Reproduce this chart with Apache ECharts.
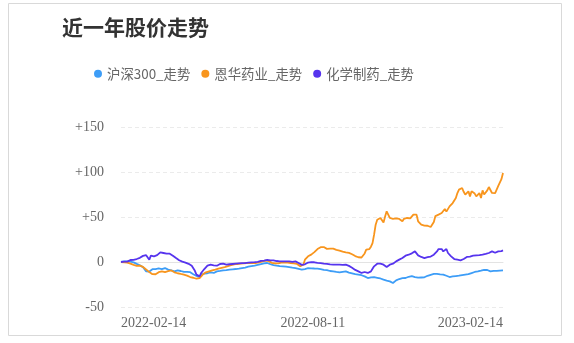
<!DOCTYPE html>
<html>
<head>
<meta charset="utf-8">
<script src="https://cdn.jsdelivr.net/npm/echarts@6/dist/echarts.min.js"></script>
<style>
  html, body { margin: 0; padding: 0; background: #fff; }
  #chart { width: 574px; height: 343px; }
</style>
</head>
<body>
<div id="chart"></div>
<script>
// Trading calendar: weekdays from 2022-02-14 to 2023-02-14, minus exchange holidays
const startDate = '2022-02-14';
const endDate = '2023-02-14';
const holidays = [
  '2022-04-04', '2022-04-05',
  '2022-05-02', '2022-05-03', '2022-05-04',
  '2022-06-03', '2022-09-12',
  '2022-10-03', '2022-10-04', '2022-10-05', '2022-10-06', '2022-10-07',
  '2023-01-02',
  '2023-01-23', '2023-01-24', '2023-01-25', '2023-01-26', '2023-01-27'
];
const shownDates = ['2022-02-14', '2022-08-11', '2023-02-14'];
const yTicks = [-50, 0, 50, 100, 150];

const seriesNames = ['沪深300_走势', '恩华药业_走势', '化学制药_走势'];

// Cumulative change (%) since the first day
const hs300 = [
  0, 0.3, 0.6, 0.4, 0.7, 0.9, 0.5, 0.2, -0.4, -1.2,
  -2.1, -3.0, -3.6, -4.8, -5.9, -7.8, -10.4, -12.2, -10.6, -9.1,
  -8.0, -7.4, -7.9, -6.7, -7.2, -7.0, -7.8, -7.1, -6.7, -7.6,
  -8.5, -8.9, -9.3, -9.9, -10.4, -9.8, -9.3, -9.6, -10.0, -10.4,
  -11.0, -11.5, -10.9, -10.4, -11.3, -12.2, -13.6, -15.2, -15.5, -15.9,
  -16.7, -14.0, -13.6, -13.0, -12.7, -12.5, -12.2, -11.6, -11.9, -12.2,
  -11.0, -10.4, -10.2, -9.9, -9.7, -9.3, -9.5, -9.0, -8.8, -8.5,
  -8.4, -8.1, -8.3, -7.8, -7.6, -7.3, -7.0, -6.7, -6.9, -6.2,
  -5.6, -5.2, -4.8, -4.6, -4.3, -4.0, -3.7, -3.2, -2.8, -2.4,
  -1.9, -1.6, -1.3, -1.1, -1.5, -2.3, -3.0, -3.4, -3.8, -4.1,
  -4.3, -4.6, -4.4, -4.8, -5.0, -5.2, -5.0, -5.6, -5.9, -6.2,
  -6.4, -6.7, -7.0, -7.6, -8.2, -8.5, -8.1, -7.8, -7.2, -6.9,
  -6.7, -7.0, -7.4, -7.2, -7.6, -7.3, -7.4, -7.9, -8.3, -8.8,
  -9.3, -9.0, -9.6, -10.0, -10.2, -10.4, -10.8, -11.0, -11.3, -11.5,
  -11.2, -10.9, -10.6, -10.4, -11.0, -11.8, -12.4, -12.6, -13.0, -13.4,
  -13.7, -14.0, -14.3, -14.7, -15.2, -16.0, -16.9, -17.8, -17.4, -17.0,
  -16.7, -16.9, -17.3, -17.6, -17.8, -18.3, -19.0, -19.6, -20.2, -20.7,
  -21.1, -21.5, -22.4, -23.3, -21.8, -20.4, -19.5, -18.9, -18.2, -17.9,
  -17.6, -17.8, -17.1, -16.4, -15.2, -15.6, -15.9, -16.7, -17.1, -17.4,
  -17.8, -17.2, -16.5, -17.0, -15.9, -15.3, -15.0, -14.2, -13.7, -13.3,
  -13.0, -13.2, -13.5, -13.8, -14.0, -14.0, -14.6, -15.3, -16.0, -16.7,
  -16.3, -16.0, -15.9, -15.6, -15.4, -15.2, -14.8, -14.5, -14.2, -14.0,
  -14.0, -13.5, -13.0, -12.3, -11.7, -11.1, -10.8, -10.4, -9.9, -9.6,
  -9.0, -8.7, -8.5, -8.9, -9.6, -10.4, -10.1, -9.8, -9.6, -9.9,
  -10.0, -9.6, -9.4, -9.3
];

const enhua = [
  0, -0.2, -0.3, -0.4, -0.6, -1.2, -1.8, -2.2, -3.1, -4.0,
  -4.2, -3.8, -4.0, -4.6, -5.5, -6.7, -8.4, -10.4, -11.2, -12.2,
  -13.5, -14.8, -13.6, -12.2, -11.3, -10.6, -10.4, -10.9, -11.2, -11.5,
  -10.1, -8.5, -9.4, -10.6, -11.5, -12.0, -12.5, -13.0, -13.3, -13.7,
  -14.0, -14.3, -15.1, -16.0, -16.7, -17.0, -17.5, -17.8, -18.6, -19.6,
  -17.8, -15.9, -14.0, -12.2, -11.5, -11.0, -10.4, -9.7, -9.3, -8.9,
  -8.5, -7.8, -7.4, -7.0, -6.5, -6.0, -5.6, -4.8, -4.5, -4.1,
  -3.6, -3.0, -2.6, -1.9, -2.2, -1.9, -1.9, -1.4, -1.6, -1.2,
  -1.1, -1.4, -1.0, -1.3, -1.1, -0.8, -1.1, -0.6, -0.4, 0.1,
  0.6, 1.0, 1.5, 2.6, 0.9, -0.4, -1.0, -1.2, -1.6, -1.9,
  -1.5, -1.1, -0.8, -1.0, -0.6, -0.4, -0.8, -1.0, -1.3, -1.1,
  -1.4, -1.9, -2.2, -3.0, -4.8, -6.7, -3.0, 2.6, 4.5, 6.3,
  7.4, 8.2, 10.0, 11.0, 11.8, 14.4, 15.6, 16.5, 17.4, 16.6,
  15.6, 14.6, 13.7, 14.8, 15.6, 14.8, 13.9, 13.5, 13.6, 12.7,
  11.8, 11.5, 11.1, 10.7, 10.4, 10.2, 10.0, 8.6, 7.0, 6.6,
  6.3, 5.3, 4.4, 5.0, 6.3, 9.5, 13.7, 14.2, 14.4, 17.0,
  21.0, 30.4, 41.5, 47.0, 48.2, 48.9, 46.5, 44.0, 50.5, 56.3,
  56.0, 48.9, 48.4, 48.0, 47.8, 48.5, 47.6, 47.8, 46.9, 45.2,
  48.0, 50.0, 48.9, 47.0, 48.4, 50.0, 52.6, 51.5, 52.6, 45.2,
  43.3, 41.5, 41.9, 40.4, 41.2, 40.3, 40.8, 38.9, 37.7, 44.5,
  51.0, 51.4, 52.6, 53.5, 54.4, 55.2, 58.9, 56.0, 54.4, 61.8,
  63.7, 65.5, 67.4, 71.0, 76.6, 80.4, 81.0, 82.2, 78.0, 74.8,
  76.6, 78.5, 72.9, 78.5, 80.4, 76.0, 72.9, 72.2, 76.6, 71.1,
  79.6, 75.0, 73.0, 79.6, 83.3, 84.8, 76.7, 77.5, 76.6, 78.0,
  84.5, 86.0, 92.0, 98.9
];

const chemPharma = [
  0, 0.2, 0.4, 0.7, 0.4, 1.5, 2.2, 2.6, 2.3, 3.0,
  3.3, 3.9, 4.6, 5.6, 6.8, 8.1, 7.6, 7.0, 2.6, 7.0,
  6.6, 6.3, 7.0, 7.6, 8.1, 10.7, 10.3, 10.0, 9.6, 9.3,
  9.8, 9.3, 8.2, 7.0, 5.9, 4.4, 3.2, 1.9, 1.0, 0.4,
  0, -0.6, -1.1, -2.0, -3.0, -4.2, -5.6, -9.8, -14.0, -15.2,
  -16.0, -12.2, -10.4, -7.8, -5.6, -4.0, -3.4, -3.0, -3.4, -3.7,
  -3.2, -4.1, -2.9, -2.2, -2.6, -1.9, -2.4, -3.0, -2.7, -2.5,
  -2.2, -2.2, -1.8, -1.9, -1.4, -1.6, -1.1, -1.3, -1.5, -1.2,
  -1.1, -0.8, -1.1, -0.5, 0, -0.2, -0.4, 0.2, 0.7, 1.2,
  1.8, 1.6, 1.9, 2.3, 2.6, 1.7, 1.0, 1.8, 1.4, 1.1,
  0.9, 0.7, 1.0, 0.7, 0.5, 0.8, 0.6, 0.7, 0.3, 0.2,
  0, 0.7, 0.1, -1.1, -1.9, -3.2, -4.8, -2.6, -1.1, -0.6,
  0, -0.2, -0.4, -0.3, -0.7, -0.9, -1.1, -1.3, -1.6, -1.9,
  -2.2, -2.0, -2.4, -2.7, -2.8, -3.0, -2.8, -3.0, -3.2, -3.0,
  -2.9, -3.1, -3.0, -3.0, -3.7, -4.3, -4.8, -6.3, -7.8, -8.8,
  -9.6, -10.4, -11.2, -12.2, -11.6, -11.1, -11.7, -12.2, -11.5, -10.4,
  -7.6, -4.8, -3.4, -1.9, -1.6, -1.9, -2.2, -3.0, -4.2, -5.6,
  -4.3, -3.0, -2.4, -1.9, -0.6, 0.7, 1.6, 2.6, 3.5, 4.4,
  5.7, 7.0, 6.6, 8.1, 9.2, 9.6, 10.0, 11.8, 11.5, 7.4,
  6.3, 5.6, 4.4, 4.4, 4.6, 5.4, 6.3, 6.0, 6.3, 8.1,
  10.0, 11.8, 14.4, 13.7, 14.4, 11.8, 12.9, 14.4, 10.0, 8.1,
  6.3, 5.0, 3.3, 4.4, 2.6, 0.7, 1.9, 2.6, 3.3, 4.4,
  5.6, 5.2, 6.0, 6.3, 7.0, 6.7, 7.4, 7.2, 7.7, 8.1,
  8.1, 8.6, 9.0, 9.3, 10.0, 10.7, 11.8, 10.0, 10.3, 10.7,
  11.8, 11.3, 12.1, 12.9
];

const colors = ['#3d9df7', '#f8951d', '#5634ee'];

// Build the list of trading days
function fmt(d) {
  const m = String(d.getUTCMonth() + 1).padStart(2, '0');
  const day = String(d.getUTCDate()).padStart(2, '0');
  return d.getUTCFullYear() + '-' + m + '-' + day;
}
const dates = [];
for (let d = new Date(startDate + 'T00:00:00Z'); fmt(d) <= endDate; d.setUTCDate(d.getUTCDate() + 1)) {
  const wd = d.getUTCDay();
  const s = fmt(d);
  if (wd !== 0 && wd !== 6 && holidays.indexOf(s) < 0) dates.push(s);
}

const chart = echarts.init(document.getElementById('chart'), null, { renderer: 'canvas' });
const values = [hs300, enhua, chemPharma];

chart.setOption({
  animation: false,
  color: colors,
  graphic: [{
    type: 'rect',
    shape: { x: 8.5, y: 3.5, width: 553, height: 332 },
    style: { fill: 'none', stroke: '#d9d9d9', lineWidth: 1 },
    silent: true
  }],
  title: {
    text: '近一年股价走势',
    left: 57,
    top: 12,
    textStyle: {
      fontFamily: 'Noto Sans CJK SC',
      fontSize: 21,
      fontWeight: 'bold',
      color: '#333'
    }
  },
  legend: {
    data: seriesNames.map((n) => ({ name: n, icon: 'circle' })),
    left: 89,
    top: 62,
    itemWidth: 8,
    itemHeight: 8,
    itemGap: 11,
    textStyle: {
      fontFamily: 'Noto Sans CJK SC',
      fontSize: 13.4,
      color: '#666'
    }
  },
  grid: { left: 121, right: 71, top: 127, bottom: 36 },
  xAxis: {
    type: 'category',
    boundaryGap: false,
    data: dates,
    axisTick: { show: false },
    axisLine: { lineStyle: { color: '#e3e3e3' } },
    axisLabel: {
      interval: (i, v) => shownDates.indexOf(v) >= 0,
      showMinLabel: true,
      showMaxLabel: true,
      alignMinLabel: 'left',
      alignMaxLabel: 'right',
      margin: 9,
      color: '#666',
      fontFamily: 'Liberation Serif',
      fontSize: 14
    },
    splitLine: { show: false }
  },
  yAxis: {
    type: 'value',
    min: yTicks[0],
    max: yTicks[yTicks.length - 1],
    interval: 50,
    axisLine: { show: false },
    axisTick: { show: false },
    axisLabel: {
      margin: 17,
      color: '#666',
      fontFamily: 'Liberation Serif',
      fontSize: 14,
      formatter: (v) => (v > 0 ? '+' + v : String(v))
    },
    splitLine: { lineStyle: { color: '#ebebeb', type: [4, 3] } }
  },
  series: seriesNames.map((name, k) => ({
    name: name,
    type: 'line',
    data: values[k],
    showSymbol: false,
    symbol: 'none',
    lineStyle: { width: 1.8, color: colors[k] },
    itemStyle: { color: colors[k] }
  }))
});
</script>
</body>
</html>
